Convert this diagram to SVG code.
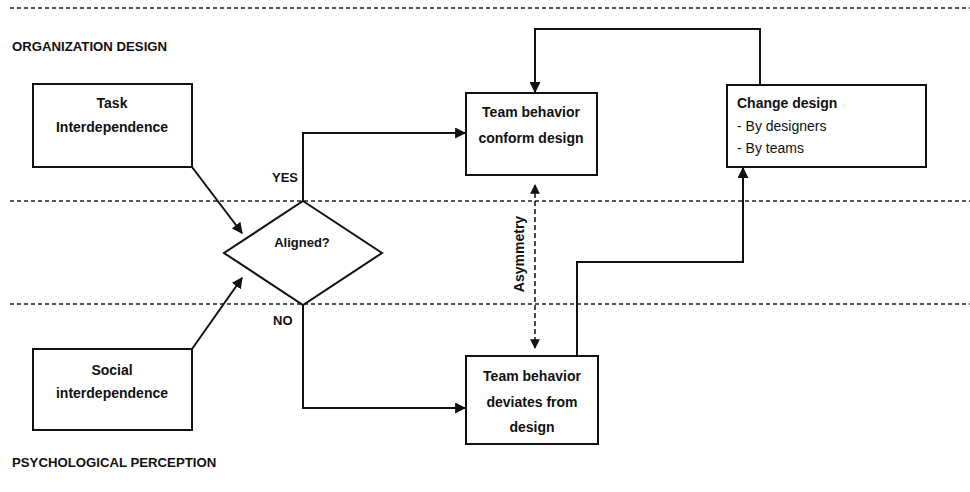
<svg xmlns="http://www.w3.org/2000/svg" width="970" height="492" viewBox="0 0 970 492">
<style>
text{font-family:"Liberation Sans",Arial,sans-serif;font-weight:bold;font-size:13px;fill:#111}
.box{fill:#fff;stroke:#111;stroke-width:2}
.lane{stroke:#222;stroke-width:1.5;stroke-dasharray:4 3;fill:none}
.c{fill:none;stroke:#111;stroke-width:2}
.d{fill:none;stroke:#111;stroke-width:1.5;stroke-dasharray:5 3}
.mid{text-anchor:middle}
.hd{font-size:13.2px}
.lb{font-size:14px}
</style>
<defs>
<marker id="ah" viewBox="0 0 10 10" refX="9" refY="5" markerWidth="5.5" markerHeight="5.5" orient="auto-start-reverse" markerUnits="strokeWidth"><path d="M0,0 L10,5 L0,10 z" fill="#111"/></marker>
<marker id="ah2" viewBox="0 0 10 10" refX="9" refY="5" markerWidth="6.5" markerHeight="6.5" orient="auto-start-reverse" markerUnits="strokeWidth"><path d="M0,0 L10,5 L0,10 z" fill="#111"/></marker>
</defs>
<g id="lanes">
<line class="lane" x1="10" y1="8" x2="970" y2="8"/>
<line class="lane" x1="10" y1="201" x2="970" y2="201"/>
<line class="lane" x1="10" y1="304" x2="970" y2="304"/>
<text class="hd" x="12" y="51">ORGANIZATION DESIGN</text>
<text class="hd" x="12" y="467">PSYCHOLOGICAL PERCEPTION</text>
</g>
<g id="connectors">
<line class="c" x1="192" y1="167" x2="242" y2="233" marker-end="url(#ah)"/>
<line class="c" x1="192" y1="349" x2="242" y2="278" marker-end="url(#ah)"/>
<polyline class="c" points="303,201 303,133 465,133" marker-end="url(#ah)"/>
<polyline class="c" points="303,305 303,408 465,408" marker-end="url(#ah)"/>
<polyline class="c" points="760,85 760,29 535,29 535,92" marker-end="url(#ah)"/>
<polyline class="c" points="577,356 577,262 743,262 743,168" marker-end="url(#ah)"/>
<line class="d" x1="535" y1="185" x2="535" y2="348" marker-start="url(#ah2)" marker-end="url(#ah2)"/>
<text class="mid lb" x="0" y="0" transform="translate(524,254) rotate(-90)">Asymmetry</text>
<text x="272" y="182">YES</text>
<text x="273" y="325">NO</text>
</g>
<g id="task">
<rect class="box" x="33" y="84" width="159" height="83"/>
<text class="mid lb" x="112" y="108">Task</text>
<text class="mid lb" x="112" y="132">Interdependence</text>
</g>
<g id="social">
<rect class="box" x="33" y="349" width="159" height="81"/>
<text class="mid lb" x="112" y="375">Social</text>
<text class="mid lb" x="112" y="398">interdependence</text>
</g>
<g id="aligned">
<polygon class="box" points="303,201 382,253 303,305 224,253"/>
<text class="mid" x="302" y="247">Aligned?</text>
</g>
<g id="conform">
<rect class="box" x="466" y="93" width="131" height="82"/>
<text class="mid lb" x="531" y="117">Team behavior</text>
<text class="mid lb" x="531" y="143">conform design</text>
</g>
<g id="deviates">
<rect class="box" x="466" y="356" width="132" height="88"/>
<text class="mid lb" x="532" y="381">Team behavior</text>
<text class="mid lb" x="532" y="407">deviates from</text>
<text class="mid lb" x="532" y="432">design</text>
</g>
<g id="change">
<rect class="box" x="727" y="85" width="199" height="82"/>
<text class="lb" x="737" y="108">Change design</text>
<text class="lb" x="737" y="131" style="font-weight:normal">- By designers</text>
<text class="lb" x="737" y="153" style="font-weight:normal">- By teams</text>
</g>
</svg>
